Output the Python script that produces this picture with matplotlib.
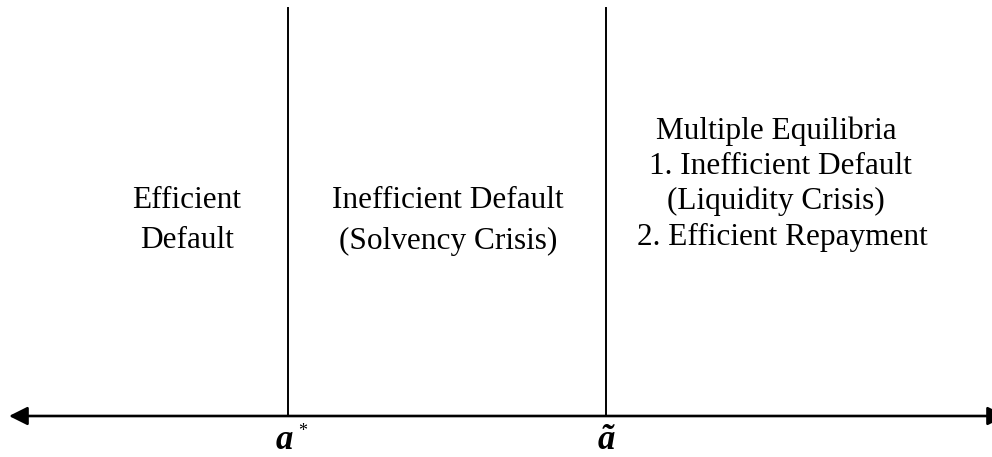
import matplotlib.pyplot as plt

# region labels (one list of lines per region) and their centre x
region_lines = [
    ['Efficient', 'Default'],
    ['Inefficient Default', '(Solvency Crisis)'],
    ['Multiple Equilibria', '1. Inefficient Default', '(Liquidity Crisis)', '2. Efficient Repayment'],
]
region_x = [[187, 187], [448, 448], [776, 780, 776, 782]]
region_y = [[201, 241], [201, 241], [131, 166, 201, 237]]

# thresholds on the axis
thresh_x = [288, 606]
axis_y = 416

fig = plt.figure(figsize=(9.92, 4.57), dpi=100)
ax = fig.add_axes([0, 0, 1, 1])
ax.set_xlim(0, 992)
ax.set_ylim(457, 0)
ax.axis('off')

serif = 'Liberation Serif'

# horizontal axis with arrows at both ends (right head runs off the edge)
ax.annotate('', xy=(9, axis_y), xytext=(1006, axis_y),
            arrowprops=dict(arrowstyle='<|-|>', color='black', lw=1.9,
                            mutation_scale=28, shrinkA=0, shrinkB=0))

# vertical thresholds
for x in thresh_x:
    ax.plot([x, x], [8, axis_y], color='black', lw=1.4)

for xs, lines, ys in zip(region_x, region_lines, region_y):
    for cx, line, y in zip(xs, lines, ys):
        ax.text(cx, y, line, ha='center', va='center', fontsize=22.5,
                family=serif)

# threshold labels
ax.text(thresh_x[0] - 4, 449, 'a', ha='center', va='baseline', fontsize=25,
        family=serif, weight='bold', style='italic')
ax.text(thresh_x[0] + 15, 431, '*', ha='center', va='center', fontsize=13,
        family=serif)
ax.text(thresh_x[1], 449, '\u00e3', ha='center', va='baseline', fontsize=25,
        family=serif, weight='bold', style='italic')

fig.savefig('out.png', dpi=100)
